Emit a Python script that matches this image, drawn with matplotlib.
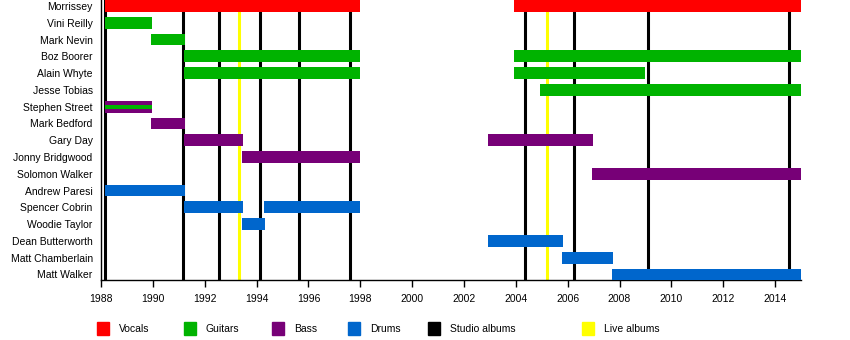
import matplotlib
matplotlib.use("Agg")
import matplotlib.pyplot as plt
from matplotlib.patches import Rectangle

plt.rcParams["font.family"] = ["Liberation Sans", "DejaVu Sans"]

# Miembros, rol y periodos (años decimales)
members = ["Morrissey", "Vini Reilly", "Mark Nevin", "Boz Boorer", "Alain Whyte",
           "Jesse Tobias", "Stephen Street", "Mark Bedford", "Gary Day",
           "Jonny Bridgwood", "Solomon Walker", "Andrew Paresi", "Spencer Cobrin",
           "Woodie Taylor", "Dean Butterworth", "Matt Chamberlain", "Matt Walker"]
roles = ["Vocals", "Guitars", "Guitars", "Guitars", "Guitars",
         "Guitars", "Bass", "Bass", "Bass",
         "Bass", "Bass", "Drums", "Drums",
         "Drums", "Drums", "Drums", "Drums"]
periods = [
    [(1988.17, 1998.0), (2003.94, 2015.0)],
    [(1988.17, 1989.98)],
    [(1989.94, 1991.25)],
    [(1991.21, 1998.0), (2003.94, 2015.0)],
    [(1991.21, 1998.0), (2003.94, 2008.99)],
    [(2004.94, 2015.0)],
    [(1988.17, 1989.98)],
    [(1989.94, 1991.25)],
    [(1991.21, 1993.49), (2002.94, 2006.99)],
    [(1993.45, 1998.0)],
    [(2006.95, 2015.0)],
    [(1988.17, 1991.25)],
    [(1991.21, 1993.49), (1994.30, 1998.0)],
    [(1993.45, 1994.34)],
    [(2002.94, 2005.83)],
    [(2005.79, 2007.76)],
    [(2007.72, 2015.0)],
]
# Stephen Street también tocó guitarras
second_role = {"Stephen Street": "Guitars"}

studio_albums = [1988.17, 1991.16, 1992.54, 1994.14, 1995.62, 1997.59,
                 2004.34, 2006.23, 2009.08, 2014.52]
live_albums = [1993.31, 2005.22]

colors = {"Vocals": "#ff0000", "Guitars": "#00b300", "Bass": "#770077",
          "Drums": "#0066cc", "Studio albums": "#000000", "Live albums": "#ffff00"}

fig = plt.figure(figsize=(8.5, 3.4), dpi=100)
ax = fig.add_axes([101 / 850, 60 / 340, 700 / 850, 280 / 340])

bar_h = 0.7
for i, name in enumerate(members):
    for start, end in periods[i]:
        ax.barh(i, end - start, left=start, height=bar_h,
                color=colors[roles[i]], zorder=3)
        if name in second_role:
            ax.barh(i, end - start, left=start, height=0.24,
                    color=colors[second_role[name]], zorder=4)

for d in studio_albums:
    ax.axvline(d, color=colors["Studio albums"], lw=2.2, zorder=2)
for d in live_albums:
    ax.axvline(d, color=colors["Live albums"], lw=2.2, zorder=2)

ax.set_xlim(1988, 2015)
ax.set_ylim(16.33, -0.36)
ax.set_yticks(range(len(members)))
ax.set_yticklabels(members, fontsize=7.5)
ax.tick_params(axis="y", length=0, pad=6)
ax.set_xticks(range(1988, 2015, 2))
ax.tick_params(axis="x", labelsize=7.5, length=5, width=1, pad=5)
ax.spines["top"].set_visible(False)
ax.spines["right"].set_visible(False)
ax.spines["left"].set_linewidth(1)
ax.spines["bottom"].set_linewidth(1)

# Leyenda manual
legend_items = ["Vocals", "Guitars", "Bass", "Drums", "Studio albums", "Live albums"]
legend_x = [97, 184, 272, 348, 428, 582]
for label, x in zip(legend_items, legend_x):
    fig.patches.append(Rectangle((x / 850, 1 - 335 / 340), 12 / 850, 13 / 340,
                                 transform=fig.transFigure, color=colors[label]))
    fig.text((x + 22) / 850, 1 - 329 / 340, label, fontsize=7.5, va="center")

fig.savefig("out.png", dpi=100)
